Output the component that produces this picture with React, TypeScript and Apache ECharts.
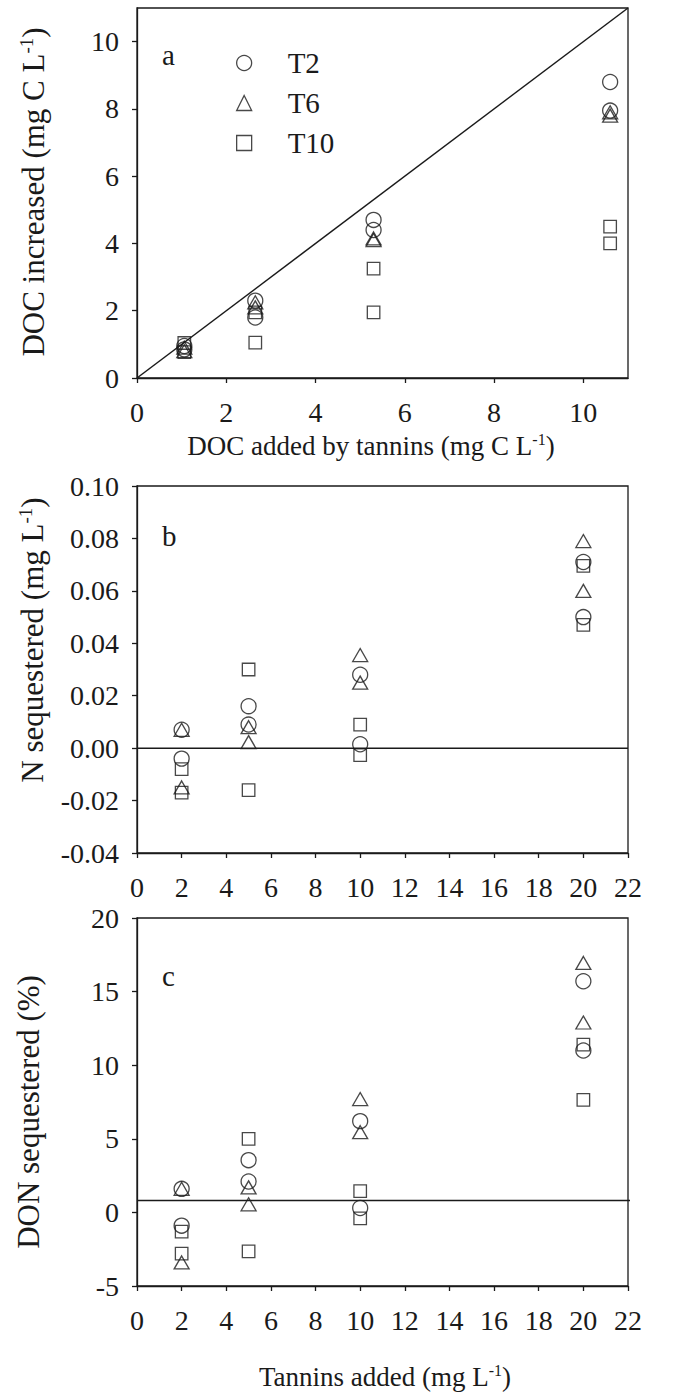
import React, { useEffect, useRef } from 'react';
import * as echarts from 'echarts';

const FONT = 'Liberation Serif';
const INK = '#1a1a1a';

// Panel a: DOC added by tannins (x) vs DOC increased (y), two replicates per level
const docAdded = [1.06, 2.65, 5.3, 10.6];
const docIncT2 = [[0.95, 0.85], [2.3, 1.8], [4.7, 4.4], [8.8, 7.95]];
const docIncT6 = [[0.9, 0.8], [2.25, 2.1], [4.15, 4.1], [7.9, 7.8]];
const docIncT10 = [[1.04, 0.77], [1.95, 1.05], [3.25, 1.95], [4.5, 4.0]];
const oneToOne = [[0, 0], [11, 11]];

// Panel b: tannins added vs N sequestered (mg L-1)
const tanninsAdded = [2, 5, 10, 20];
const nSeqT2 = [[0.007, -0.004], [0.016, 0.009], [0.028, 0.0015], [0.071, 0.05]];
const nSeqT6 = [[0.007, -0.015], [0.008, 0.0023], [0.0355, 0.025], [0.079, 0.06]];
const nSeqT10 = [[-0.008, -0.017], [0.03, -0.016], [0.009, -0.0027], [0.0695, 0.047]];
const nZeroLine = [[0, 0], [22, 0]];

// Panel c: tannins added vs DON sequestered (%)
const donSeqT2 = [[1.6, -0.9], [3.55, 2.1], [6.2, 0.3], [15.7, 11.0]];
const donSeqT6 = [[1.6, -3.4], [1.7, 0.55], [7.7, 5.45], [16.95, 12.9]];
const donSeqT10 = [[-1.3, -2.8], [5.0, -2.65], [1.45, -0.4], [11.4, 7.65]];
const donRefLine = [[0, 0.8], [22.15, 0.8]];

const treatments = ['T2', 'T6', 'T10'];
const symbols = ['circle', 'triangle', 'rect'];
const symbolSizes: any[] = [15, [15, 13], 12.5];

function pairs(xs: number[], ys: number[][]) {
  const out: number[][] = [];
  xs.forEach((x, i) => ys[i].forEach((y) => out.push([x, y])));
  return out;
}

const axisLineStyle = { color: INK, width: 1.3 };

function xAxis(gridIndex: number, max: number, hideMax: boolean) {
  return {
    type: 'value',
    gridIndex,
    min: 0,
    max,
    interval: 2,
    axisLine: { show: true, onZero: false, lineStyle: axisLineStyle },
    axisTick: { show: true, inside: false, length: 5, lineStyle: axisLineStyle },
    axisLabel: {
      fontFamily: FONT,
      fontSize: 28,
      color: INK,
      margin: 20,
      showMaxLabel: !hideMax,
    },
    splitLine: { show: false },
  };
}

function yAxis(gridIndex: number, min: number, max: number, interval: number, fmt: (v: number) => string, hideMax: boolean) {
  return {
    type: 'value',
    gridIndex,
    min,
    max,
    interval,
    axisLine: { show: true, onZero: false, lineStyle: axisLineStyle },
    axisTick: { show: true, inside: false, length: 5, lineStyle: axisLineStyle },
    axisLabel: {
      fontFamily: FONT,
      fontSize: 28,
      color: INK,
      margin: 18,
      showMaxLabel: !hideMax,
      formatter: fmt,
    },
    splitLine: { show: false },
  };
}

function scatterSeries(axisIndex: number, xs: number[], groups: number[][][]) {
  return groups.map((g, i) => ({
    type: 'scatter',
    name: treatments[i],
    xAxisIndex: axisIndex,
    yAxisIndex: axisIndex,
    symbol: symbols[i],
    symbolSize: symbolSizes[i],
    itemStyle: { color: 'transparent', borderColor: INK, borderWidth: 1.3 },
    emphasis: { disabled: true },
    data: pairs(xs, g),
    z: 3,
  }));
}

function refLine(axisIndex: number, data: number[][]) {
  return {
    type: 'line',
    xAxisIndex: axisIndex,
    yAxisIndex: axisIndex,
    data,
    symbol: 'none',
    silent: true,
    clip: false,
    lineStyle: { color: INK, width: 1.5 },
    z: 2,
  };
}

const rich = (size: number) => ({
  n: { fontFamily: FONT, fontSize: size, fill: INK, color: INK, lineHeight: size + 2 },
  s: { fontFamily: FONT, fontSize: Math.round(size * 0.6), fill: INK, color: INK, verticalAlign: 'top', lineHeight: Math.round(size * 0.66) },
});

function titleText(x: number, y: number, text: string, size: number, rotate: boolean) {
  return {
    type: 'text',
    x,
    y,
    rotation: rotate ? Math.PI / 2 : 0,
    silent: true,
    style: {
      text,
      rich: rich(size),
      align: 'center',
      verticalAlign: 'middle',
      textAlign: 'center',
      textVerticalAlign: 'middle',
      fill: INK,
      fontFamily: FONT,
      fontSize: size,
    },
  };
}

function panelLetter(x: number, y: number, letter: string) {
  return {
    type: 'text',
    x,
    y,
    silent: true,
    style: {
      text: letter,
      fontFamily: FONT,
      fontSize: 29,
      fill: INK,
      align: 'left',
      verticalAlign: 'middle',
      textAlign: 'left',
      textVerticalAlign: 'middle',
    },
  };
}

export default function App() {
  const ref = useRef<HTMLDivElement>(null);
  useEffect(() => {
    if (!ref.current) return;
    const chart = echarts.init(ref.current, undefined, { renderer: 'svg' });
    const gridBase = { left: 137, width: 491, show: true, borderColor: INK, borderWidth: 1.3, backgroundColor: 'transparent' };
    chart.setOption({
      animation: false,
      backgroundColor: '#ffffff',
      textStyle: { fontFamily: FONT },
      grid: [
        { ...gridBase, top: 8, height: 370 },
        { ...gridBase, top: 486, height: 367 },
        { ...gridBase, top: 918, height: 368 },
      ],
      xAxis: [xAxis(0, 11, true), xAxis(1, 22, false), xAxis(2, 22, false)],
      yAxis: [
        yAxis(0, 0, 11, 2, (v: number) => String(v), true),
        yAxis(1, -0.04, 0.1, 0.02, (v: number) => (Math.abs(v) < 1e-9 ? 0 : v).toFixed(2), false),
        yAxis(2, -5, 20, 5, (v: number) => String(Math.round(v)), false),
      ],
      legend: {
        show: true,
        orient: 'vertical',
        left: 231,
        top: 43,
        itemWidth: 15,
        itemHeight: 15,
        itemGap: 10,
        selectedMode: false,
        data: treatments,
        textStyle: { fontFamily: FONT, fontSize: 29, color: INK, lineHeight: 30, padding: [0, 0, 0, 31] },
        itemStyle: { color: 'transparent', borderColor: INK, borderWidth: 1.3 },
      },
      graphic: [
        panelLetter(162, 55, 'a'),
        panelLetter(162, 536, 'b'),
        panelLetter(162, 976, 'c'),
        titleText(371, 446, '{n|DOC added by tannins (mg C L}{s|-1}{n|)}', 27, false),
        titleText(385, 1377, '{n|Tannins added (mg L}{s|-1}{n|)}', 27, false),
        titleText(33, 192, '{n|DOC increased (mg C L}{s|-1}{n|)}', 31, true),
        titleText(32, 640, '{n|N sequestered (mg L}{s|-1}{n|)}', 31, true),
        titleText(28, 1112, '{n|DON sequestered (%)}', 31, true),
      ],
      series: [
        refLine(0, oneToOne),
        ...scatterSeries(0, docAdded, [docIncT2, docIncT6, docIncT10]),
        refLine(1, nZeroLine),
        ...scatterSeries(1, tanninsAdded, [nSeqT2, nSeqT6, nSeqT10]),
        refLine(2, donRefLine),
        ...scatterSeries(2, tanninsAdded, [donSeqT2, donSeqT6, donSeqT10]),
      ],
    });
    return () => chart.dispose();
  }, []);
  return <div ref={ref} style={{ position: 'absolute', left: 0, top: 0, width: 692, height: 1395 }} />;
}
